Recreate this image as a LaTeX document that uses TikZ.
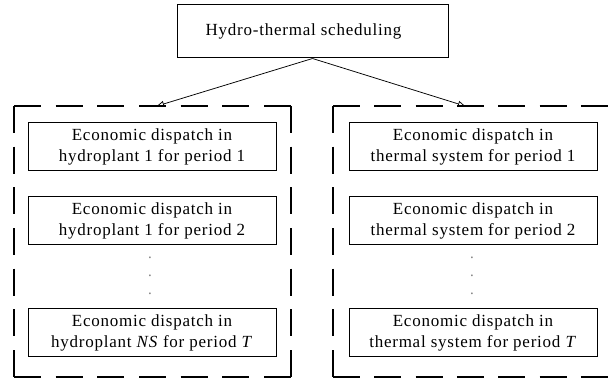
\documentclass[tikz,border=0pt]{standalone}
\usepackage{fontspec}
\setmainfont{Liberation Serif}
\usetikzlibrary{arrows.meta}
\begin{document}
\begin{tikzpicture}[x=1pt,y=-1pt,
  txt/.style={font=\fontsize{17}{21}\selectfont\addfontfeature{LetterSpace=4.5}},
  box/.style={draw,line width=1pt,minimum width=248pt,minimum height=48pt,inner sep=0pt,align=center,txt},
  topbox/.style={draw,line width=1pt,minimum width=271pt,minimum height=53pt,inner sep=0pt,align=center,txt},
  dside/.style={line width=1.1pt,dash pattern=on 27pt off #1},
  conn/.style={line width=0.75pt,-{Triangle[open,length=7pt,width=6pt]}},
  vdot/.style={inner sep=0pt,font=\fontsize{15}{15}\selectfont,text=gray}]
\useasboundingbox[fill=white] (0,0) rectangle (608,379);
\node[topbox] (top) at (312.5,31.5) {Hydro-thermal scheduling\hspace*{18pt}};
% left group
\draw[dside=14.67pt] (14,106) -- (291,106);
\draw[dside=13.67pt] (14,106) -- (14,377);
\draw[dside=13.67pt] (291,106) -- (291,377);
\draw[dside=14.67pt] (14,377) -- (291,377);
% right group
\draw[dside=14.33pt] (333,106) -- (608,106);
\draw[dside=13.67pt] (333,106) -- (333,377);
\draw[dside=14.33pt] (333,377) -- (608,377);
\coordinate (lt) at (157,106);
\coordinate (rt) at (465,106);
\node[box] (h1) at (152,146.5) {Economic dispatch in\\hydroplant 1 for period 1};
\node[box] (h2) at (152,220.5) {Economic dispatch in\\hydroplant 1 for period 2};
\node[box] (h3) at (152,333) {Economic dispatch in\\hydroplant \textit{NS} for period \textit{T}};
\node[box] (t1) at (473,146.5) {Economic dispatch in\\thermal system for period 1};
\node[box] (t2) at (473,220.5) {Economic dispatch in\\thermal system for period 2};
\node[box] (t3) at (473,333) {Economic dispatch in\\thermal system for period \textit{T}};
\node[vdot] (hd1) at (150,258) {.};
\node[vdot] (hd2) at (150,276) {.};
\node[vdot] (hd3) at (150,294) {.};
\node[vdot] (td1) at (472,258) {.};
\node[vdot] (td2) at (472,276) {.};
\node[vdot] (td3) at (472,294) {.};
\draw[conn] (top.south) -- (lt);
\draw[conn] (top.south) -- (rt);
\end{tikzpicture}
\end{document}
